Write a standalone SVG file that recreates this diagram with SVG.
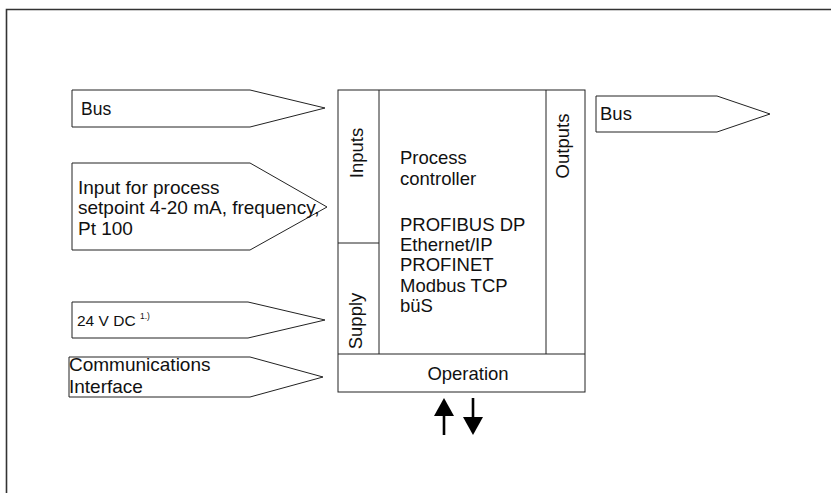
<svg xmlns="http://www.w3.org/2000/svg" width="831" height="493" viewBox="0 0 831 493">
<style>
.frame{fill:none;stroke:#333;stroke-width:1.6}
.ln{fill:#fff;stroke:#222;stroke-width:1}
.t{font-family:"Liberation Sans",Arial,sans-serif;font-size:18.5px;fill:#111}
.tl{font-family:"Liberation Sans",Arial,sans-serif;font-size:19px;fill:#111}
.sup{font-family:"Liberation Sans",Arial,sans-serif;font-size:8.5px;fill:#111}
.ar{stroke:#000;stroke-width:2.6;fill:none}
</style>
<rect width="831" height="493" fill="#fff"/>
<path class="frame" d="M6.5,493 V9.5 H831"/>
<g id="in-bus">
<polygon class="ln" points="72,90 250,90 325,108 250,127 72,127"/>
<text class="t" x="81" y="115" style="font-size:17.5px">Bus</text>
</g>
<g id="in-process">
<polygon class="ln" points="72,163 250,163 327,207 250,250 72,250"/>
<text class="tl" x="78" y="194">Input for process</text>
<text class="tl" x="78" y="214">setpoint 4-20 mA, frequency,</text>
<text class="tl" x="78" y="235">Pt 100</text>
</g>
<g id="in-24v">
<polygon class="ln" points="72,302 248,302 325,320 248,338 72,338"/>
<text class="t" x="77" y="326" style="font-size:15.5px">24 V DC</text>
<text class="sup" x="140" y="319">1.)</text>
</g>
<g id="in-comm">
<polygon class="ln" points="69,357 250,357 323,377 250,397 69,397"/>
<text class="tl" x="69" y="371">Communications</text>
<text class="tl" x="69" y="393">Interface</text>
</g>
<g id="controller">
<rect class="ln" x="338" y="90" width="247" height="302"/>
<line class="ln" x1="379" y1="90" x2="379" y2="354"/>
<line class="ln" x1="546" y1="90" x2="546" y2="354"/>
<line class="ln" x1="338" y1="354" x2="585" y2="354"/>
<line class="ln" x1="338" y1="243" x2="379" y2="243"/>
<text class="t" transform="translate(363,153) rotate(-90)" text-anchor="middle">Inputs</text>
<text class="t" transform="translate(362,321) rotate(-90)" text-anchor="middle">Supply</text>
<text class="t" transform="translate(569,146) rotate(-90)" text-anchor="middle">Outputs</text>
<text class="t" x="400" y="164">Process</text>
<text class="t" x="400" y="185">controller</text>
<text class="t" x="400" y="231">PROFIBUS DP</text>
<text class="t" x="400" y="251">Ethernet/IP</text>
<text class="t" x="400" y="271">PROFINET</text>
<text class="t" x="400" y="292">Modbus TCP</text>
<text class="t" x="400" y="312">büS</text>
<text class="t" x="468" y="380" text-anchor="middle">Operation</text>
</g>
<g id="out-bus">
<polygon class="ln" points="596,96 717,96 770,114 717,132 596,132"/>
<text class="t" x="600" y="120">Bus</text>
</g>
<g id="connectors">
<line class="ar" x1="444" y1="435" x2="444" y2="412"/>
<polygon points="434,416 444,398 454,416" fill="#000"/>
<line class="ar" x1="473" y1="398" x2="473" y2="420"/>
<polygon points="463,417 473,435 483,417" fill="#000"/>
</g>
</svg>
